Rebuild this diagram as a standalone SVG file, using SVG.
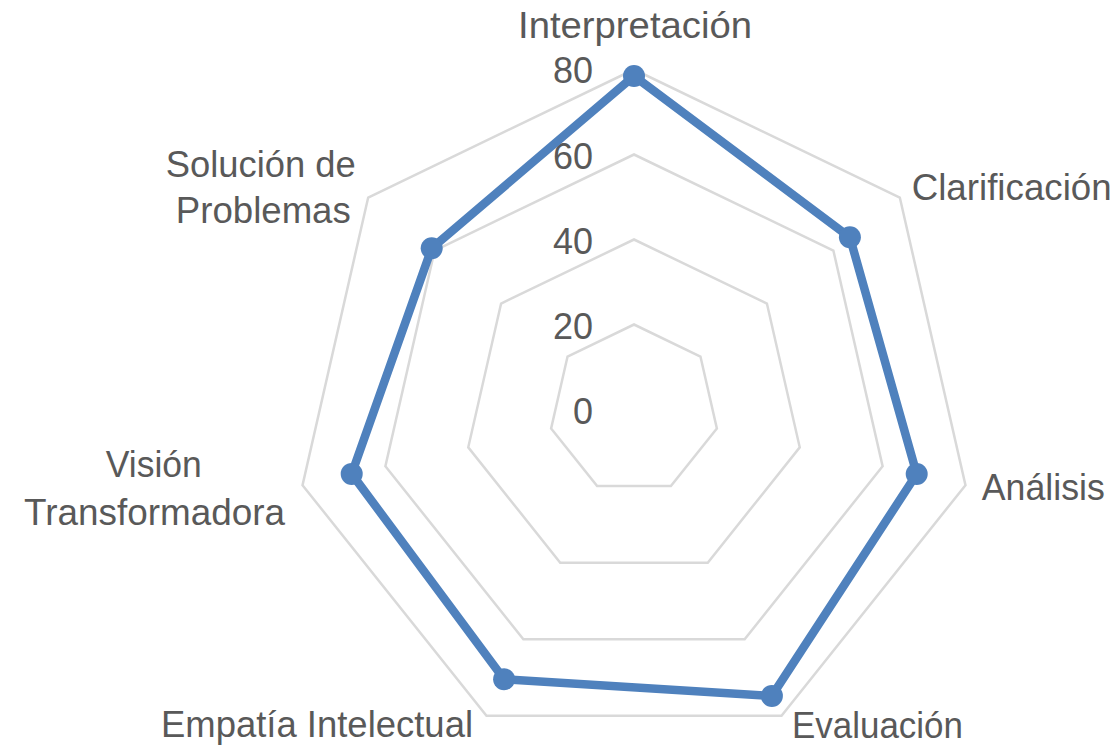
<svg xmlns="http://www.w3.org/2000/svg" width="1117" height="751" viewBox="0 0 1117 751">
<style>
.grid{fill:none;stroke:#D9D9D9;stroke-width:2.5;stroke-linejoin:miter}
.series{fill:none;stroke:#4F81BD;stroke-width:8.5;stroke-linejoin:round}
.dot{fill:#4F81BD}
.lbl{font-family:"Liberation Sans",Arial,sans-serif;font-size:36px;fill:#595959;text-anchor:middle}
.tick{font-family:"Liberation Sans",Arial,sans-serif;font-size:36px;fill:#595959;text-anchor:end}
</style>
<rect width="1117" height="751" fill="#FFFFFF"/>
<g id="grid">
<polygon class="grid" points="634,324.5 700.46,356.5 716.87,428.41 670.88,486.08 597.12,486.08 551.13,428.41 567.54,356.5"/>
<polygon class="grid" points="634,239.5 766.91,303.51 799.74,447.33 707.76,562.66 560.24,562.66 468.26,447.33 501.09,303.51"/>
<polygon class="grid" points="634,154.5 833.37,250.51 882.61,466.24 744.64,639.25 523.36,639.25 385.39,466.24 434.63,250.51"/>
<polygon class="grid" points="634,69.5 899.82,197.51 965.48,485.16 781.52,715.83 486.48,715.83 302.52,485.16 368.18,197.51"/>
</g>
<g id="axis-ticks">
<text class="tick" x="593" y="423.5">0</text>
<text class="tick" x="593" y="338.5">20</text>
<text class="tick" x="593" y="253.5">40</text>
<text class="tick" x="593" y="168.5">60</text>
<text class="tick" x="593" y="83">80</text>
</g>
<g id="connectors">
<polygon class="series" points="634,76 849.9,237.3 916.7,474 771.9,695.9 504.1,679.2 351.7,473.9 431.7,248.2"/>
</g>
<g id="node-interpretacion"><circle class="dot" cx="634" cy="76" r="11"/><text class="lbl" x="635" y="38" textLength="234" lengthAdjust="spacingAndGlyphs">Interpretación</text></g>
<g id="node-clarificacion"><circle class="dot" cx="849.9" cy="237.3" r="11"/><text class="lbl" x="1011.7" y="200" textLength="200" lengthAdjust="spacingAndGlyphs">Clarificación</text></g>
<g id="node-analisis"><circle class="dot" cx="916.7" cy="474" r="11"/><text class="lbl" x="1043.3" y="500" textLength="123" lengthAdjust="spacingAndGlyphs">Análisis</text></g>
<g id="node-evaluacion"><circle class="dot" cx="771.9" cy="695.9" r="11"/><text class="lbl" x="877.5" y="738" textLength="171" lengthAdjust="spacingAndGlyphs">Evaluación</text></g>
<g id="node-empatia"><circle class="dot" cx="504.1" cy="679.2" r="11"/><text class="lbl" x="317" y="737" textLength="312" lengthAdjust="spacingAndGlyphs">Empatía Intelectual</text></g>
<g id="node-vision"><circle class="dot" cx="351.7" cy="473.9" r="11"/><text class="lbl" x="153.8" y="476.5" textLength="96" lengthAdjust="spacingAndGlyphs">Visión</text><text class="lbl" x="154.5" y="525" textLength="261" lengthAdjust="spacingAndGlyphs">Transformadora</text></g>
<g id="node-solucion"><circle class="dot" cx="431.7" cy="248.2" r="11"/><text class="lbl" x="260.8" y="176.7" textLength="190" lengthAdjust="spacingAndGlyphs">Solución de</text><text class="lbl" x="263.3" y="223.3" textLength="175" lengthAdjust="spacingAndGlyphs">Problemas</text></g>
</svg>
